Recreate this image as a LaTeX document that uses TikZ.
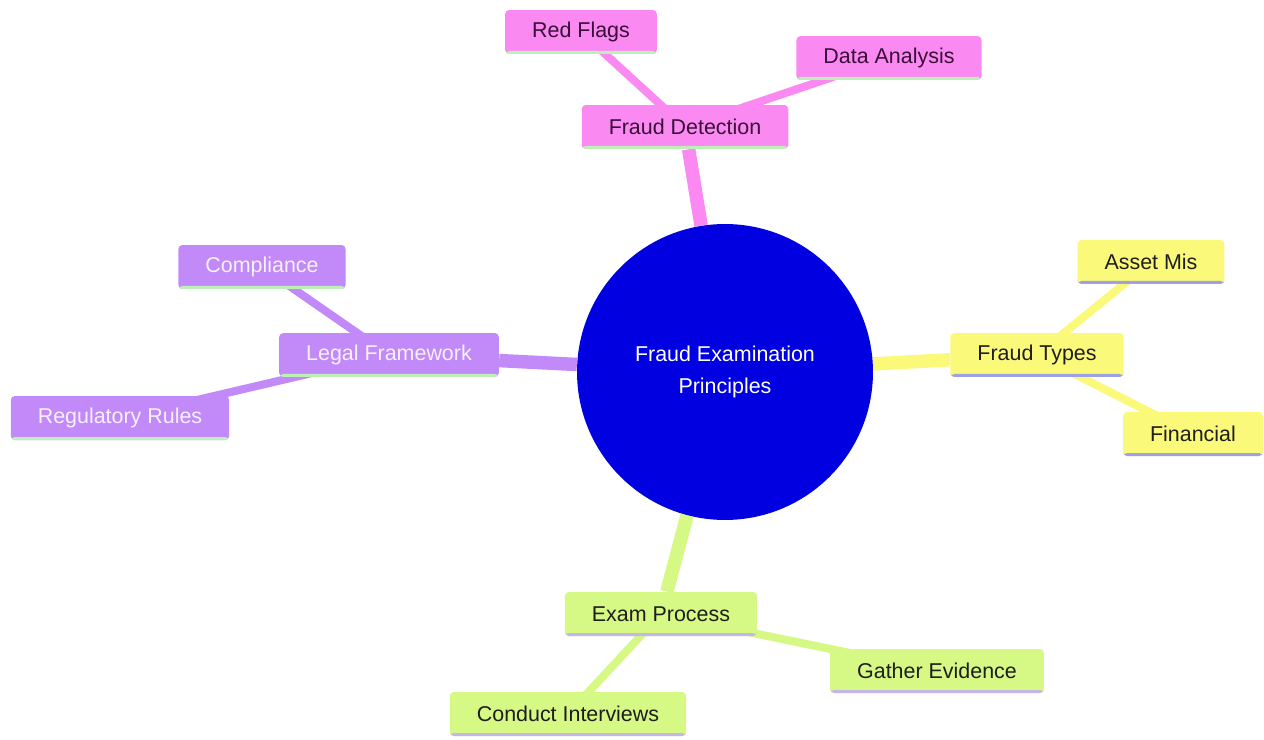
\documentclass[tikz,border=0pt]{standalone}
\usepackage{fontspec}
\setmainfont{Liberation Sans}
\usetikzlibrary{backgrounds}
\definecolor{rootblue}{HTML}{0000E0}
\definecolor{detect}{HTML}{FA8AF2}
\definecolor{types}{HTML}{FBF97A}
\definecolor{exam}{HTML}{D6F884}
\definecolor{legal}{HTML}{C28AF8}
\definecolor{detecttext}{HTML}{3A0E36}
\definecolor{darktext}{HTML}{1E1E1E}
\definecolor{legaltext}{HTML}{F6F0FF}
\definecolor{greenline}{HTML}{BDF0B6}
\definecolor{blueline}{HTML}{A0A0E4}
\definecolor{lilacline}{HTML}{C4B6E6}

\begin{document}
\begin{tikzpicture}[x=0.02cm, y=-0.02cm,
  every node/.style={font=\fontsize{12.2}{18.7}\selectfont},
  under/.style={path picture={\fill[#1] ([yshift=0.06cm]path picture bounding box.south west) rectangle (path picture bounding box.south east);}},
  box/.style={rectangle, rounded corners=0.08cm, minimum height=0.88cm, inner xsep=0.54cm, inner ysep=0pt},
  detectbox/.style={box, fill=detect, text=detecttext, under=greenline},
  typesbox/.style={box, fill=types, text=darktext, under=blueline},
  exambox/.style={box, fill=exam, text=darktext, under=lilacline},
  legalbox/.style={box, fill=legal, text=legaltext, under=greenline},
  trunk/.style={line width=0.27cm},
  twig/.style={line width=0.16cm}]
\useasboundingbox (0,0) rectangle (1264,740);
\node[circle, fill=rootblue, text=white, minimum size=5.92cm, inner sep=0pt, align=center] (core) at (725,372) {Fraud Examination\\Principles};
\node[detectbox] (detection) at (685,127) {Fraud Detection};
\node[detectbox] (flags) at (581,32) {Red Flags};
\node[detectbox] (analysis) at (889,58) {Data Analysis};
\node[typesbox] (fraudtypes) at (1037,355) {Fraud Types};
\node[typesbox] (asset) at (1151,262) {Asset Mis};
\node[typesbox] (financial) at (1193,434) {Financial};
\node[legalbox] (framework) at (389,355) {Legal Framework};
\node[legalbox] (compliance) at (262,267) {Compliance};
\node[legalbox] (rules) at (120,418) {Regulatory Rules};
\node[exambox] (process) at (661,614) {Exam Process};
\node[exambox] (evidence) at (937,671) {Gather Evidence};
\node[exambox] (interviews) at (568,714) {Conduct Interviews};
\begin{scope}[on background layer]
\fill[white] (0,0) rectangle (1264,740);
\draw[trunk, detect] (core) -- (detection);
\draw[twig, detect] (detection.center) -- (flags.center);
\draw[twig, detect] (detection.center) -- (analysis.center);
\draw[trunk, types] (core) -- (fraudtypes);
\draw[twig, types] (fraudtypes.center) -- (asset.center);
\draw[twig, types] (fraudtypes.center) -- (financial.center);
\draw[trunk, legal] (core) -- (framework);
\draw[twig, legal] (framework.center) -- (compliance.center);
\draw[twig, legal] (framework.center) -- (rules.center);
\draw[trunk, exam] (core) -- (process);
\draw[twig, exam] (process.center) -- (evidence.center);
\draw[twig, exam] (process.center) -- (interviews.center);
\end{scope}
\end{tikzpicture}
\end{document}
